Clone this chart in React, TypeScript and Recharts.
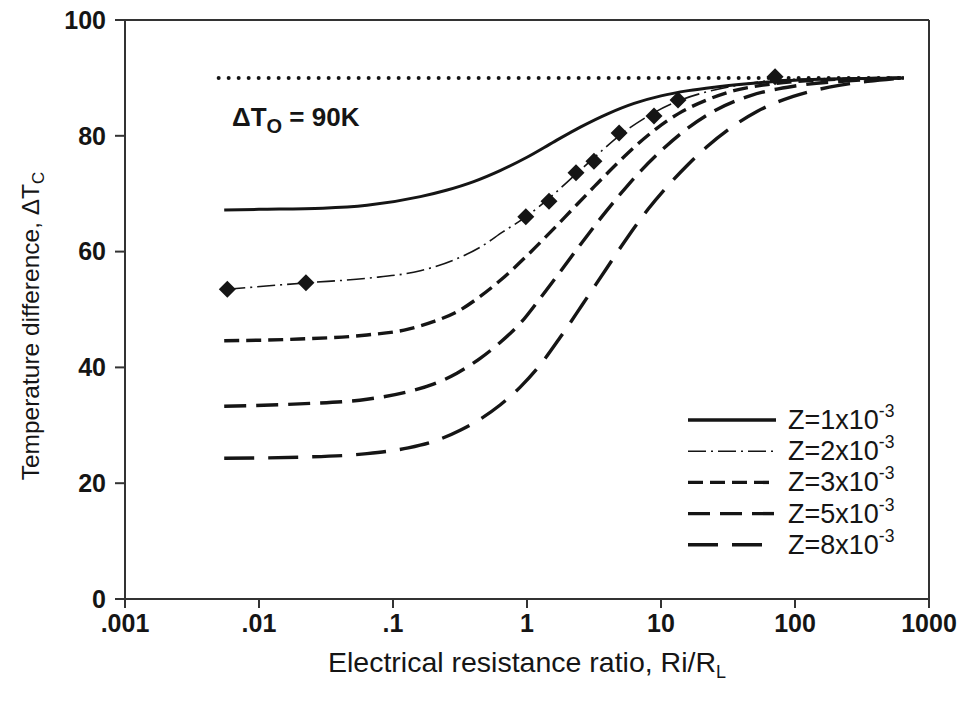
import React from 'react';
import { ComposedChart, Line, Scatter, XAxis, YAxis, Legend, ReferenceLine } from 'recharts';

// ---- tick labels ----
const xTicks = [0.001, 0.01, 0.1, 1, 10, 100, 1000];
const xTickLabels = ['.001', '.01', '.1', '1', '10', '100', '1000'];
const yTicks = [0, 20, 40, 60, 80, 100];

// ---- reference level ΔTo = 90K ----
const refX = [0.005, 640];
const refY = [90, 90];

// ---- Z = 1x10^-3 (solid) ----
const z1X = [0.0055, 0.01, 0.03, 0.064, 0.16, 0.25, 0.4, 0.63, 1.0, 1.6, 2.5, 4.0, 6.3, 10, 16, 25, 40, 63, 100, 250, 650];
const z1Y = [67.2, 67.3, 67.5, 68.0, 69.5, 70.6, 72.1, 74.0, 76.3, 79.0, 81.5, 83.8, 85.6, 86.9, 87.8, 88.4, 88.9, 89.3, 89.6, 89.85, 90];

// ---- Z = 2x10^-3 (dash-dot) ----
const z2X = [0.0058, 0.0224, 0.064, 0.16, 0.28, 0.45, 0.66, 0.98, 1.46, 2.32, 3.16, 4.87, 8.87, 13.4, 22, 35, 71, 200, 650];
const z2Y = [53.5, 54.6, 55.4, 56.7, 58.5, 60.8, 63.4, 66.0, 69.2, 73.4, 76.2, 80.0, 84.0, 86.0, 87.6, 88.6, 89.6, 89.9, 90];

// ---- measured points (diamonds) ----
const ptsX = [0.0058, 0.0224, 0.98, 1.46, 2.32, 3.16, 4.87, 8.87, 13.4, 71];
const ptsY = [53.5, 54.6, 66.0, 68.7, 73.6, 75.6, 80.5, 83.4, 86.2, 90.2];

// ---- Z = 3x10^-3 ----
const z3X = [0.0055, 0.02, 0.064, 0.13, 0.2, 0.3, 0.45, 0.63, 1.0, 1.56, 2.2, 3.2, 4.6, 6.5, 9.2, 13.9, 22, 35, 60, 120, 300, 650];
const z3Y = [44.6, 44.9, 45.6, 46.6, 47.9, 49.6, 52.3, 55.0, 59.3, 63.8, 67.4, 71.3, 75.0, 78.3, 81.2, 84.0, 86.2, 87.8, 88.8, 89.5, 89.85, 90];

// ---- Z = 5x10^-3 ----
const z5X = [0.0055, 0.02, 0.064, 0.13, 0.2, 0.3, 0.45, 0.63, 0.89, 1.26, 1.78, 2.5, 3.5, 5.0, 7.1, 10, 15, 25, 46, 100, 250, 650];
const z5Y = [33.3, 33.7, 34.5, 35.8, 37.1, 39.0, 41.6, 44.3, 47.6, 52.0, 56.6, 61.2, 65.6, 70.0, 74.0, 77.4, 80.9, 84.3, 86.9, 88.6, 89.5, 90];

// ---- Z = 8x10^-3 ----
const z8X = [0.0055, 0.02, 0.064, 0.13, 0.2, 0.32, 0.45, 0.63, 0.89, 1.25, 1.77, 2.6, 3.9, 5.6, 8, 11.5, 16, 22, 32, 52, 97, 180, 350, 650];
const z8Y = [24.3, 24.5, 25.1, 26.1, 27.2, 29.2, 31.1, 33.5, 36.6, 40.4, 45.2, 50.9, 57.0, 62.4, 67.3, 71.6, 75.1, 78.1, 81.1, 84.2, 86.8, 88.4, 89.4, 90];

const legendLabels = ['1', '2', '3', '5', '8'];

const zip = (xs: number[], ys: number[]) => xs.map((x, i) => ({ x, y: ys[i] }));

const INK = '#151515';
const AXIS = '#333';
const FONT = '"Liberation Sans", Arial, Helvetica, sans-serif';

const styles = [
  { dash: undefined, width: 3 },
  { dash: '18 5 2 5', width: 1.6 },
  { dash: '15 7', width: 3.4 },
  { dash: '22 10', width: 3.4 },
  { dash: '30 14', width: 3.4 },
];

const Diamond = (props: any) => {
  const { cx, cy } = props;
  const h = 8.5;
  return (
    <polygon
      points={`${cx},${cy - h} ${cx + h},${cy} ${cx},${cy + h} ${cx - h},${cy}`}
      fill={INK}
    />
  );
};

const XTitle = (props: any) => {
  const vb = props.viewBox || {};
  const cx = (vb.x || 0) + (vb.width || 0) / 2;
  return (
    <text x={cx} y={672} textAnchor="middle" fontFamily={FONT} fontSize={28.5} fill={INK}>
      Electrical resistance ratio, Ri/R
      <tspan fontSize={18} dy={6}>L</tspan>
    </text>
  );
};

const YTitle = () => (
  <text
    transform="translate(39,326) rotate(-90)"
    x={0}
    y={0}
    textAnchor="middle"
    fontFamily={FONT}
    fontSize={24.5}
    fill={INK}
  >
    Temperature difference, ΔT
    <tspan fontSize={17} dy={5}>C</tspan>
  </text>
);

const LegendBox = () => (
  <svg width={260} height={170} style={{ display: 'block' }}>
    {legendLabels.map((z, i) => {
      const cy = 18 + i * 31.2;
      const s = styles[i];
      return (
        <g key={z}>
          <line
            x1={8}
            x2={i === 4 ? 83 : 96}
            y1={cy}
            y2={cy}
            stroke={INK}
            strokeWidth={i === 1 ? 1.6 : 3.4}
            strokeDasharray={s.dash}
          />
          <text x={108} y={cy + 9} fontFamily={FONT} fontSize={27} fill={INK}>
            {`Z=${z}x10`}
            <tspan fontSize={17.5} dy={-12}>-3</tspan>
          </text>
        </g>
      );
    })}
  </svg>
);

export default function App() {
  return (
    <div style={{ position: 'absolute', left: 0, top: 0, background: '#fff' }}>
      <ComposedChart
        width={958}
        height={705}
        margin={{ top: 20, right: 29, bottom: 0, left: 0 }}
      >
        <XAxis
          dataKey="x"
          type="number"
          scale="log"
          domain={[0.001, 1000]}
          ticks={xTicks}
          allowDataOverflow
          height={106}
          tickSize={9}
          tickMargin={6}
          tickFormatter={(v: number) => {
            const i = xTicks.findIndex((t) => Math.abs(t - v) / t < 1e-6);
            return i >= 0 ? xTickLabels[i] : '';
          }}
          axisLine={{ stroke: AXIS, strokeWidth: 2 }}
          tickLine={{ stroke: AXIS, strokeWidth: 2 }}
          tick={{ fill: INK, fontSize: 25, fontWeight: 'bold', fontFamily: FONT }}
          label={{ content: (p: any) => <XTitle {...p} /> }}
        />
        <YAxis
          dataKey="y"
          type="number"
          domain={[0, 100]}
          ticks={yTicks}
          allowDataOverflow
          width={125}
          tickSize={10}
          tickMargin={9}
          axisLine={{ stroke: AXIS, strokeWidth: 2 }}
          tickLine={{ stroke: AXIS, strokeWidth: 2 }}
          tick={{ fill: INK, fontSize: 25, fontWeight: 'bold', fontFamily: FONT }}
          label={{ content: () => <YTitle /> }}
        />
        <ReferenceLine y={100} stroke={AXIS} strokeWidth={2} />
        <ReferenceLine x={1000} stroke={AXIS} strokeWidth={2} />

        <Line
          data={zip(refX, refY)}
          dataKey="y"
          type="linear"
          stroke={INK}
          strokeWidth={4}
          strokeDasharray="0 10"
          strokeLinecap="round"
          dot={false}
          activeDot={false}
          isAnimationActive={false}
          legendType="none"
        />
        <Line data={zip(z1X, z1Y)} dataKey="y" name="Z=1x10-3" type="monotone" stroke={INK} strokeWidth={3} dot={false} activeDot={false} isAnimationActive={false} />
        <Line data={zip(z2X, z2Y)} dataKey="y" name="Z=2x10-3" type="monotone" stroke={INK} strokeWidth={1.6} strokeDasharray="18 5 2 5" dot={false} activeDot={false} isAnimationActive={false} />
        <Line data={zip(z3X, z3Y)} dataKey="y" name="Z=3x10-3" type="monotone" stroke={INK} strokeWidth={3.4} strokeDasharray="15 7" dot={false} activeDot={false} isAnimationActive={false} />
        <Line data={zip(z5X, z5Y)} dataKey="y" name="Z=5x10-3" type="monotone" stroke={INK} strokeWidth={3.4} strokeDasharray="22 10" dot={false} activeDot={false} isAnimationActive={false} />
        <Line data={zip(z8X, z8Y)} dataKey="y" name="Z=8x10-3" type="monotone" stroke={INK} strokeWidth={3.4} strokeDasharray="30 14" dot={false} activeDot={false} isAnimationActive={false} />
        <Scatter data={zip(ptsX, ptsY)} dataKey="y" shape={Diamond} isAnimationActive={false} legendType="none" />

        <text x={232} y={126} fontFamily={FONT} fontSize={26} fontWeight="bold" fill={INK}>
          ΔT
          <tspan fontSize={20} dy={7}>O</tspan>
          <tspan dy={-7}> = 90K</tspan>
        </text>

        <Legend
          layout="vertical"
          align="center"
          verticalAlign="middle"
          content={() => <LegendBox />}
          wrapperStyle={{ position: 'absolute', left: 680, top: 402, width: 260, height: 170 }}
        />
      </ComposedChart>
    </div>
  );
}
